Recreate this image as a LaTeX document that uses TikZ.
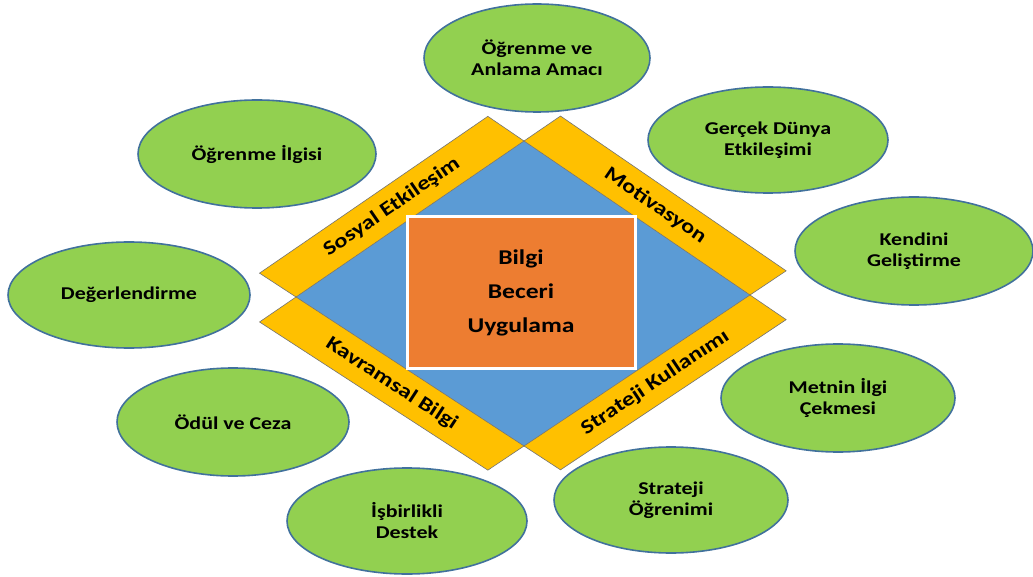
\documentclass[tikz,border=0pt]{standalone}
\usepackage{fontspec}
\setmainfont{Carlito}
\newfontfamily\lblfont[FakeStretch=1.22]{Carlito}
\usetikzlibrary{shapes.geometric}
\usetikzlibrary{calc}

\definecolor{bubblefill}{HTML}{92D050}
\definecolor{bubbleedge}{HTML}{41719C}
\definecolor{rhombfill}{HTML}{5B9BD5}
\definecolor{bandfill}{HTML}{FFC000}
\definecolor{corefill}{HTML}{ED7D31}

\tikzset{
  bubble/.style={ellipse, draw=bubbleedge, fill=bubblefill, line width=0.8pt,
    inner sep=0pt, align=center, font=\lblfont\bfseries\fontsize{9}{10.5}\selectfont},
  band/.style={fill=bandfill, draw=black!55, line width=0.3pt},
  bandtext/.style={midway, sloped, font=\lblfont\bfseries\fontsize{10}{12}\selectfont},
  core/.style={rectangle, draw=white, line width=1.5pt, fill=corefill, align=center,
    minimum width=114pt, minimum height=75.5pt,
    font=\lblfont\bfseries\fontsize{10.5}{17}\selectfont}
}

\begin{document}
\begin{tikzpicture}[x=0.5pt, y=-0.5pt]
    \useasboundingbox (0,0) rectangle (1033,577);

    % Blue diamond corners
    \coordinate (T) at (524,141);
    \coordinate (R) at (750,295);
    \coordinate (B) at (524,446);
    \coordinate (L) at (296,297);

    % Outer corners of the yellow bands
    \coordinate (ulL) at ($(L)!-0.16!(B)$);
    \coordinate (ulT) at ($(T)!-0.16!(R)$);
    \coordinate (urT) at ($(T)!-0.16!(L)$);
    \coordinate (urR) at ($(R)!-0.16!(B)$);
    \coordinate (lrR) at ($(R)!-0.16!(T)$);
    \coordinate (lrB) at ($(B)!-0.16!(L)$);
    \coordinate (llB) at ($(B)!-0.16!(R)$);
    \coordinate (llL) at ($(L)!-0.16!(T)$);

    % Diamond and bands
    \fill[rhombfill] (T) -- (R) -- (B) -- (L) -- cycle;
    \draw[band] (L) -- (T) -- (ulT) -- (ulL) -- cycle;
    \draw[band] (T) -- (R) -- (urR) -- (urT) -- cycle;
    \draw[band] (R) -- (B) -- (lrB) -- (lrR) -- cycle;
    \draw[band] (B) -- (L) -- (llL) -- (llB) -- cycle;

    % Band labels
    \path ($(L)!0.5!(ulL)$) -- ($(T)!0.5!(ulT)$) node[bandtext] (sosyal) {Sosyal Etkileşim};
    \path ($(T)!0.5!(urT)$) -- ($(R)!0.5!(urR)$) node[bandtext] (motiv) {Motivasyon};
    \path ($(L)!0.5!(llL)$) -- ($(B)!0.5!(llB)$) node[bandtext] (kavram) {Kavramsal Bilgi};
    \path ($(B)!0.5!(lrB)$) -- ($(R)!0.5!(lrR)$) node[bandtext] (stratkul) {Strateji Kullanımı};

    % Centre box
    \node[core] (core) at (521,292.5) {Bilgi\\Beceri\\Uygulama};

    % Surrounding ellipses
    \node[bubble, minimum width=113pt, minimum height=54pt] (amac) at (537,58) {Öğrenme ve\\Anlama Amacı};
    \node[bubble, minimum width=120pt, minimum height=53pt] (gercek) at (768,140) {Gerçek Dünya\\Etkileşimi};
    \node[bubble, minimum width=119pt, minimum height=54pt] (kendini) at (914,251) {Kendini\\Geliştirme};
    \node[bubble, minimum width=117pt, minimum height=54pt] (metnin) at (838,398) {Metnin İlgi\\Çekmesi};
    \node[bubble, minimum width=117pt, minimum height=53pt] (stratog) at (671,500) {Strateji\\Öğrenimi};
    \node[bubble, minimum width=120pt, minimum height=53pt] (isbirlik) at (407,521) {İşbirlikli\\Destek};
    \node[bubble, minimum width=116pt, minimum height=54pt] (odul) at (233,422) {Ödül ve Ceza};
    \node[bubble, minimum width=121pt, minimum height=53pt] (deger) at (129,295) {Değerlendirme};
    \node[bubble, minimum width=119pt, minimum height=54pt] (ilgi) at (257,154) {Öğrenme İlgisi};

\end{tikzpicture}
\end{document}
